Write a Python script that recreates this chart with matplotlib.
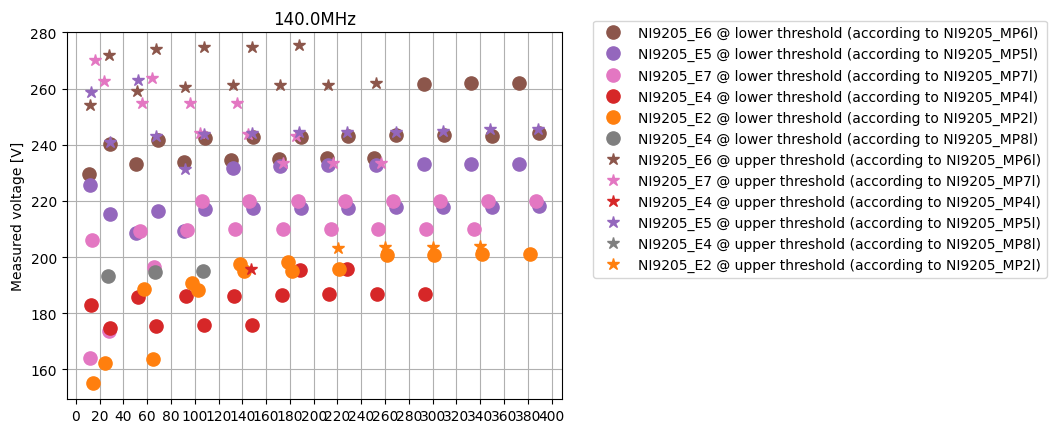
import matplotlib
matplotlib.use("Agg")
import matplotlib.pyplot as plt

# lower threshold (circles)
e6_low_x = [10.9, 28.8, 50.9, 69.4, 91.0, 108.9, 130.5, 148.7, 170.6, 189.6,
            210.9, 229.1, 250.9, 269.5, 292.9, 309.7, 332.2, 350.1, 372.8, 389.6]
e6_low_y = [229.4, 240.4, 233.0, 241.8, 233.7, 242.5, 234.5, 242.9, 234.8, 242.7,
            235.1, 243.0, 235.1, 243.4, 261.5, 243.4, 261.8, 243.2, 261.8, 244.0]

e5_low_x = [12.0, 28.8, 50.5, 69.4, 91.0, 108.6, 132.4, 149.2, 171.8, 189.3,
            212.3, 228.8, 252.4, 268.9, 292.7, 308.9, 332.4, 349.8, 372.8, 389.4]
e5_low_y = [225.8, 215.5, 208.7, 216.4, 209.3, 217.1, 231.8, 217.3, 232.3, 217.3,
            232.7, 217.6, 232.7, 217.9, 233.0, 217.9, 233.0, 217.9, 233.3, 218.2]

e7_low_x = [13.5, 12.0, 28.0, 53.8, 65.8, 93.3, 106.4, 133.9, 145.9, 174.5,
            186.6, 214.3, 226.3, 254.3, 266.9, 294.1, 306.1, 334.7, 346.7, 386.8]
e7_low_y = [206.1, 164.0, 173.8, 209.4, 196.6, 209.8, 219.9, 210.1, 219.9, 210.1,
            219.9, 210.1, 219.9, 210.1, 219.9, 210.1, 219.9, 210.1, 219.9, 219.9]

e4_low_x = [13.1, 28.6, 52.5, 67.5, 92.7, 107.8, 133.1, 148.4, 173.6, 188.2,
            213.1, 228.2, 253.2, 293.8]
e4_low_y = [182.9, 174.6, 185.8, 175.4, 186.1, 175.8, 186.1, 175.8, 186.4, 195.5,
            186.8, 195.8, 186.8, 186.8]

e2_low_x = [14.8, 24.6, 57.4, 64.9, 97.7, 103.0, 138.0, 141.6, 178.7, 181.5,
            221.5, 261.6, 301.3, 341.6, 381.8]
e2_low_y = [155.1, 162.3, 188.7, 163.7, 190.6, 188.1, 197.6, 195.0, 198.2, 195.2,
            195.8, 200.8, 200.8, 201.1, 201.1]

e4mp8_low_x = [26.7, 67.0, 107.1]
e4mp8_low_y = [193.2, 194.6, 195.1]

# upper threshold (stars)
e6_up_x = [12.0, 28.0, 51.5, 67.7, 91.8, 107.8, 132.2, 148.4, 171.9, 187.9, 212.3, 252.6]
e6_up_y = [254.1, 272.0, 259.1, 274.1, 260.5, 274.9, 261.1, 274.9, 261.3, 275.4, 261.3, 261.8]

e7_up_x = [16.5, 24.0, 55.7, 64.4, 96.0, 104.5, 135.3, 144.5, 174.5, 184.9, 216.5, 256.3]
e7_up_y = [270.1, 262.5, 254.9, 263.8, 254.9, 244.1, 254.9, 243.7, 233.4, 243.2, 233.4, 233.4]

e4_up_x = [147.3]
e4_up_y = [195.7]

e5_up_x = [12.9, 28.5, 52.4, 67.5, 91.8, 107.8, 147.9, 187.9, 228.2, 268.9, 308.9, 348.4, 388.7]
e5_up_y = [258.6, 240.9, 262.9, 243.2, 231.3, 243.9, 244.3, 244.6, 244.6, 244.6, 245.0, 245.5, 245.5]

e4mp8_up_x = []
e4mp8_up_y = []

e2_up_x = [220.7, 259.9, 300.3, 340.2]
e2_up_y = [203.2, 203.5, 203.5, 203.9]

series = [
    (e6_low_x, e6_low_y, "o", "tab:brown", "NI9205_E6 @ lower threshold (according to NI9205_MP6l)"),
    (e5_low_x, e5_low_y, "o", "tab:purple", "NI9205_E5 @ lower threshold (according to NI9205_MP5l)"),
    (e7_low_x, e7_low_y, "o", "tab:pink", "NI9205_E7 @ lower threshold (according to NI9205_MP7l)"),
    (e4_low_x, e4_low_y, "o", "tab:red", "NI9205_E4 @ lower threshold (according to NI9205_MP4l)"),
    (e2_low_x, e2_low_y, "o", "tab:orange", "NI9205_E2 @ lower threshold (according to NI9205_MP2l)"),
    (e4mp8_low_x, e4mp8_low_y, "o", "tab:gray", "NI9205_E4 @ lower threshold (according to NI9205_MP8l)"),
    (e6_up_x, e6_up_y, "*", "tab:brown", "NI9205_E6 @ upper threshold (according to NI9205_MP6l)"),
    (e7_up_x, e7_up_y, "*", "tab:pink", "NI9205_E7 @ upper threshold (according to NI9205_MP7l)"),
    (e4_up_x, e4_up_y, "*", "tab:red", "NI9205_E4 @ upper threshold (according to NI9205_MP4l)"),
    (e5_up_x, e5_up_y, "*", "tab:purple", "NI9205_E5 @ upper threshold (according to NI9205_MP5l)"),
    (e4mp8_up_x, e4mp8_up_y, "*", "tab:gray", "NI9205_E4 @ upper threshold (according to NI9205_MP8l)"),
    (e2_up_x, e2_up_y, "*", "tab:orange", "NI9205_E2 @ upper threshold (according to NI9205_MP2l)"),
]

fig = plt.figure(figsize=(10.56, 4.35), dpi=100)
ax = fig.add_axes([0.063, 0.080, 0.469, 0.844])

for xs, ys, m, c, lab in series:
    ms = 9.5 if m == "o" else 9
    ax.plot(xs, ys, linestyle="none", marker=m, markersize=ms, color=c, label=lab)

ax.set_title("140.0MHz")
ax.set_ylabel("Measured voltage [V]")
ax.set_xticks(range(0, 401, 20))
ax.set_xlim(-7.8, 408.6)
ax.set_ylim(149.4, 280.1)
ax.grid(True, color="#b0b0b0")
ax.legend(loc="upper left", bbox_to_anchor=(1.05, 1.05))

fig.savefig("out.png", dpi=100)
